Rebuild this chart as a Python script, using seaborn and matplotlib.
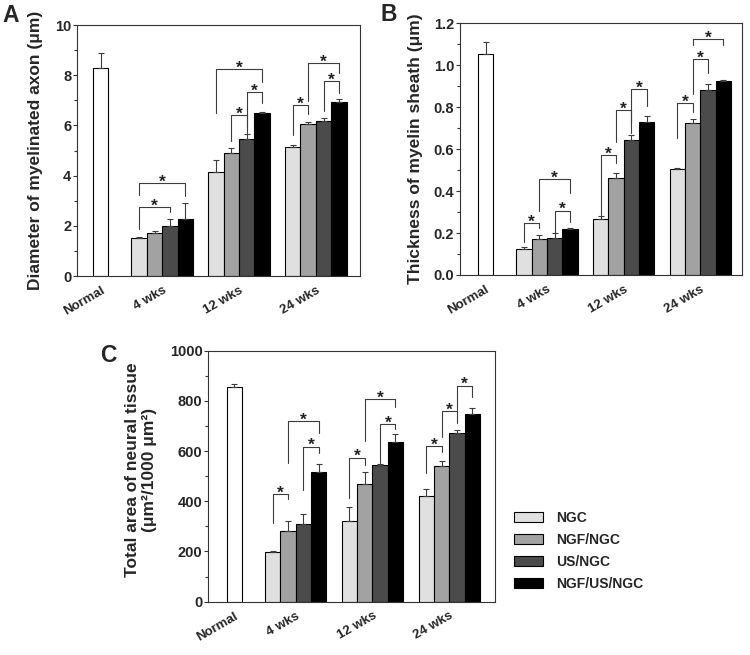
import numpy as np
import pandas as pd
import matplotlib
matplotlib.use("Agg")
import matplotlib.pyplot as plt
import matplotlib.transforms as mtransforms
from matplotlib.ticker import MultipleLocator, FormatStrFormatter
from matplotlib.patches import Patch
import seaborn as sns

# ---------------- data ----------------
groups = ["NGC", "NGF/NGC", "US/NGC", "NGF/US/NGC"]
timepoints = ["4 wks", "12 wks", "24 wks"]
xtick_labels = ["Normal", "4 wks", "12 wks", "24 wks"]

# Panel A: diameter of myelinated axon (um)
a_normal = 8.28
a_normal_err = 0.60
a_vals = [[1.53, 1.70, 1.99, 2.27],
          [4.16, 4.89, 5.45, 6.51],
          [5.13, 6.04, 6.16, 6.92]]
a_errs = [[0.03, 0.10, 0.27, 0.63],
          [0.46, 0.20, 0.19, 0.03],
          [0.10, 0.11, 0.13, 0.12]]
# (timepoint, bar i, bar j, top, left leg end, right leg end)
a_brackets = [(0, 0, 2, 2.76, 1.87, 2.56),
              (0, 0, 3, 3.69, 3.23, 3.19),
              (1, 1, 2, 6.40, 5.39, 5.95),
              (1, 2, 3, 7.34, 5.71, 6.88),
              (1, 0, 3, 8.23, 6.48, 7.74),
              (2, 0, 1, 6.81, 5.62, 6.44),
              (2, 2, 3, 7.78, 6.57, 7.30),
              (2, 1, 3, 8.50, 6.98, 8.07)]

# Panel B: thickness of myelin sheath (um)
b_normal = 1.052
b_normal_err = 0.058
b_vals = [[0.124, 0.172, 0.175, 0.221],
          [0.265, 0.461, 0.642, 0.730],
          [0.504, 0.727, 0.881, 0.925]]
b_errs = [[0.010, 0.019, 0.024, 0.005],
          [0.016, 0.024, 0.027, 0.027],
          [0.008, 0.015, 0.028, 0.003]]
b_brackets = [(0, 0, 1, 0.246, 0.159, 0.223),
              (0, 2, 3, 0.307, 0.186, 0.254),
              (0, 1, 3, 0.456, 0.307, 0.390),
              (1, 0, 1, 0.572, 0.286, 0.533),
              (1, 1, 2, 0.787, 0.636, 0.720),
              (1, 2, 3, 0.886, 0.676, 0.806),
              (2, 0, 1, 0.819, 0.652, 0.779),
              (2, 1, 2, 1.029, 0.863, 0.965),
              (2, 1, 3, 1.124, 1.097, 1.097)]

# Panel C: total area of neural tissue (um2/1000 um2)
c_normal = 855
c_normal_err = 12
c_vals = [[197, 280, 308, 518],
          [323, 470, 545, 635],
          [420, 541, 671, 748]]
c_errs = [[3, 43, 41, 32],
          [55, 45, 4, 32],
          [30, 21, 13, 25]]
c_brackets = [(0, 0, 1, 428, 312, 408),
              (0, 2, 3, 618, 445, 594),
              (0, 1, 3, 721, 551, 671),
              (1, 0, 1, 574, 412, 545),
              (1, 2, 3, 708, 551, 687),
              (1, 1, 3, 806, 641, 777),
              (2, 0, 1, 620, 514, 598),
              (2, 1, 2, 760, 655, 713),
              (2, 2, 3, 861, 764, 814)]

# ---------------- style ----------------
sns.set_style("ticks")
plt.rcParams["font.family"] = ["Liberation Sans", "DejaVu Sans"]
plt.rcParams["font.weight"] = "bold"
plt.rcParams["axes.labelweight"] = "bold"

palette = {"Normal": "#ffffff", "NGC": "#e0e0e0", "NGF/NGC": "#a2a2a2",
           "US/NGC": "#4b4b4b", "NGF/US/NGC": "#000000"}
NORMAL_POS = 0.2
offsets = (np.arange(4) - 1.5) * 0.2
spine_col = "#333333"
line_col = "#3c3c3c"

fig = plt.figure(figsize=(7.5, 6.55), dpi=100)


def panel(ax, normal, normal_err, vals, errs, brackets, ylim, major, minor,
          fmt, xlim, ylabel, label_xy):
    rows = [dict(x=NORMAL_POS, value=normal, err=normal_err, group="Normal")]
    for t in range(len(timepoints)):
        for g in range(len(groups)):
            rows.append(dict(x=round(t + 1 + offsets[g], 3), value=vals[t][g],
                             err=errs[t][g], group=groups[g]))
    df = pd.DataFrame(rows)
    sns.barplot(data=df, x="x", y="value", hue="group",
                hue_order=["Normal"] + groups, palette=palette,
                native_scale=True, dodge=False, width=1.0, saturation=1,
                edgecolor="black", linewidth=0.8, errorbar=None,
                legend=False, ax=ax, zorder=2)
    ax.errorbar(df["x"], df["value"], yerr=[np.zeros(len(df)), df["err"]],
                fmt="none", ecolor=line_col, elinewidth=0.8, capsize=2.2,
                capthick=0.8, zorder=3)
    for (t, i, j, top, yl, yr) in brackets:
        xi = t + 1 + offsets[i]
        xj = t + 1 + offsets[j]
        ax.plot([xi, xi, xj, xj], [yl, top, top, yr], color=line_col,
                lw=0.8, zorder=3)
        ax.annotate("*", xy=((xi + xj) / 2, top), xytext=(0, -2.6),
                    textcoords="offset points", ha="center", va="baseline",
                    fontsize=12.5, fontweight="bold", color="#222222")
    ax.set_xlim(*xlim)
    ax.set_ylim(*ylim)
    ax.yaxis.set_major_locator(MultipleLocator(major))
    ax.yaxis.set_minor_locator(MultipleLocator(minor))
    ax.yaxis.set_major_formatter(FormatStrFormatter(fmt))
    ax.set_xticks([NORMAL_POS, 1, 2, 3])
    ax.set_xticklabels(xtick_labels, rotation=30, ha="right",
                       rotation_mode="anchor", fontsize=9.5, fontweight="bold")
    shift = mtransforms.ScaledTranslation(2.5 / 72, 0, fig.dpi_scale_trans)
    for lbl in ax.get_xticklabels():
        lbl.set_transform(lbl.get_transform() + shift)
    ax.tick_params(axis="x", length=0, pad=6)
    ax.tick_params(axis="y", which="major", direction="out", length=3,
                   width=0.8, pad=1.2, labelsize=10.5, color=spine_col)
    ax.tick_params(axis="y", which="minor", direction="out", length=2,
                   width=0.8, color=spine_col)
    for lbl in ax.get_yticklabels():
        lbl.set_fontweight("bold")
    for s in ax.spines.values():
        s.set_visible(True)
        s.set_color(spine_col)
        s.set_linewidth(0.8)
    ax.set_xlabel("")
    ax.set_ylabel(ylabel, fontsize=12.5, fontweight="bold")
    ax.yaxis.set_label_coords(*label_xy)


axA = fig.add_axes([0.1027, 0.5786, 0.3773, 0.3832])
panel(axA, a_normal, a_normal_err, a_vals, a_errs, a_brackets, (0, 10), 2, 1,
      "%d", (-0.109, 3.575), "Diameter of myelinated axon (\u03bcm)",
      (-0.12, 0.5))

axB = fig.add_axes([0.6133, 0.5802, 0.3756, 0.3842])
panel(axB, b_normal, b_normal_err, b_vals, b_errs, b_brackets, (0, 1.2), 0.2,
      0.1, "%.1f", (-0.133, 3.54), "Thickness of myelin sheath (\u03bcm)",
      (-0.13, 0.5))

axC = fig.add_axes([0.2777, 0.0814, 0.3823, 0.3832])
panel(axC, c_normal, c_normal_err, c_vals, c_errs, c_brackets, (0, 1000), 200,
      100, "%d", (-0.14, 3.597),
      "Total area of neural tissue\n(\u03bcm\u00b2/1000 \u03bcm\u00b2)",
      (-0.178, 0.525))

# panel letters
fig.text(2 / 750, 1 - 4 / 655, "A", fontsize=16.5, fontweight="bold",
         ha="left", va="top")
fig.text(380 / 750, 1 - 3 / 655, "B", fontsize=16.5, fontweight="bold",
         ha="left", va="top")
fig.text(100 / 750, 1 - 344 / 655, "C", fontsize=16.5, fontweight="bold",
         ha="left", va="top")

# legend
handles = [Patch(facecolor=palette[g], edgecolor="black", linewidth=0.8)
           for g in groups]
fig.legend(handles, groups, loc="upper left",
           bbox_to_anchor=(514 / 750, 1 - 511 / 655), frameon=False,
           prop={"size": 10, "weight": "bold"}, handlelength=2.1,
           handleheight=0.7, labelspacing=0.58, handletextpad=0.95,
           borderaxespad=0, borderpad=0)

fig.savefig("out.png", dpi=100)
